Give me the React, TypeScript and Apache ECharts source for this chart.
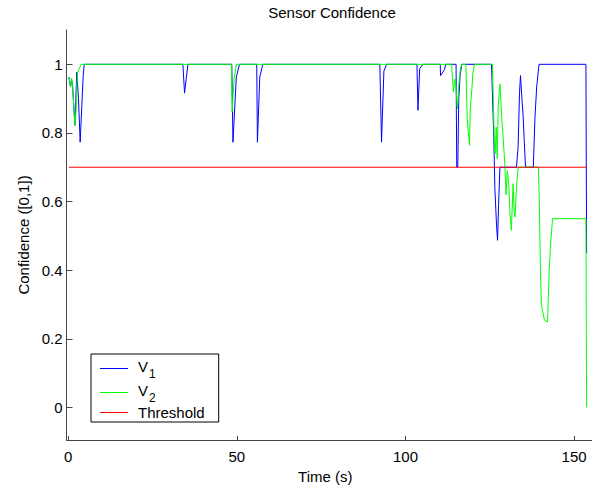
import React, { useEffect, useRef } from 'react';
import * as echarts from 'echarts';

// ---- data ----
const v1Time = [
  0.2, 0.7, 1.0, 1.3, 1.7, 2.0, 2.55, 3.05, 3.55, 4.0, 4.45, 4.75,
  34.0, 34.5, 35.0, 35.5,
  48.5, 48.85, 49.85, 50.8,
  55.9, 56.1, 56.8, 57.7,
  92.4, 92.9, 93.6, 94.4,
  103.4, 103.7, 104.2, 105.2,
  110.3, 110.4, 111.6, 111.9,
  115.0, 115.2, 115.5, 115.8, 116.2, 116.7,
  125.5, 126.2, 126.5, 127.0, 127.3, 127.6, 128.0,
  132.9, 133.4, 133.8, 134.1, 134.5, 134.9, 135.2, 135.6,
  137.9, 138.4, 138.9, 139.6,
  153.5, 153.7,
];
const v1Conf = [
  0.963, 0.934, 0.958, 0.938, 0.87, 0.822, 0.977, 0.9, 0.773, 0.87, 0.967, 1,
  1, 0.916, 0.958, 1,
  1, 0.773, 0.963, 1,
  1, 0.773, 0.963, 1,
  1, 0.773, 0.98, 1,
  1, 0.866, 0.987, 1,
  1, 0.967, 0.985, 1,
  1, 0.7, 0.7, 0.9, 0.967, 1,
  1, 0.783, 0.638, 0.531, 0.487, 0.589, 0.7,
  0.7, 0.76, 0.914, 0.967, 0.904, 0.846, 0.778, 0.7,
  0.7, 0.846, 0.934, 1,
  1, 0.45,
];
const v2Time = [
  0.2, 0.7, 1.0, 1.3, 1.7, 2.0, 2.3, 2.55, 2.85, 3.85,
  48.4, 48.6, 49.2, 49.9,
  113.7, 114.2, 114.6, 115.0, 115.4, 115.8, 116.3, 116.8,
  117.9, 118.3, 119.0, 119.2, 119.7, 120.0, 120.5,
  125.8, 126.3, 126.6, 126.9, 127.2, 127.5, 128.0, 128.5, 129.0, 129.5,
  129.8, 130.2, 130.6, 131.0, 131.4, 131.9, 132.2, 132.5, 132.9, 133.4,
  139.4, 139.7, 140.0, 140.3, 141.2, 142.1, 142.6, 143.0, 143.6,
  153.5, 153.7,
];
const v2Conf = [
  0.963, 0.934, 0.958, 0.938, 0.87, 0.822, 0.861, 0.938, 0.977, 1,
  1, 0.862, 0.96, 1,
  1, 0.919, 0.957, 0.93, 0.87, 0.94, 0.99, 1,
  1, 0.84, 0.764, 0.87, 0.93, 0.977, 1,
  1, 0.79, 0.74, 0.817, 0.725, 0.88, 0.943, 0.85, 0.78, 0.7,
  0.62, 0.69, 0.652, 0.565, 0.516, 0.652, 0.574, 0.555, 0.643, 0.7,
  0.7, 0.589, 0.405, 0.298, 0.254, 0.249, 0.395, 0.472, 0.55,
  0.55, 0.0,
];
const thresholdTime = [0.2, 153.7];
const thresholdValue = [0.7, 0.7];
const xTicks = [0, 50, 100, 150];
const yTicks = [0, 0.2, 0.4, 0.6, 0.8, 1];
const seriesNames = ['V1', 'V2', 'Threshold'];

const zip = (t: number[], v: number[]) => t.map((x, i) => [x, v[i]]);

const FONT = 'Liberation Sans, Arial, sans-serif';

export default function App() {
  const ref = useRef<HTMLDivElement>(null);
  useEffect(() => {
    document.body.style.margin = '0';
    const chart = echarts.init(ref.current!, null, { renderer: 'svg' });
    const axisLineStyle = { color: '#444', width: 1 };
    chart.setOption({
      animation: false,
      backgroundColor: '#ffffff',
      title: {
        text: 'Sensor Confidence',
        left: 327,
        top: 0,
        textAlign: 'center',
        textStyle: { fontFamily: FONT, fontSize: 15, fontWeight: 'normal', color: '#000' },
      },
      grid: { left: 66.5, top: 30, right: 0, bottom: 47.3, containLabel: false },
      xAxis: {
        type: 'value',
        min: -0.5,
        max: 155.3,
        name: 'Time (s)',
        nameLocation: 'middle',
        nameGap: 29,
        nameTextStyle: { fontFamily: FONT, fontSize: 15, color: '#000', padding: [0, 8, 0, 0] },
        axisLine: { show: true, onZero: false, lineStyle: axisLineStyle },
        axisTick: { show: true, inside: true, length: 4, customValues: xTicks, lineStyle: { color: '#444' } },
        axisLabel: { customValues: xTicks, margin: 9, fontFamily: FONT, fontSize: 15, color: '#000' },
        splitLine: { show: false },
      },
      yAxis: {
        type: 'value',
        min: -0.095,
        max: 1.1,
        name: 'Confidence ([0,1])',
        nameLocation: 'middle',
        nameGap: 35,
        nameTextStyle: { fontFamily: FONT, fontSize: 15, color: '#000' },
        axisLine: { show: true, onZero: false, lineStyle: axisLineStyle },
        axisTick: { show: true, inside: true, length: 6, customValues: yTicks, lineStyle: { color: '#444' } },
        axisLabel: { customValues: yTicks, margin: 4, fontFamily: FONT, fontSize: 15, color: '#000' },
        splitLine: { show: false },
      },
      legend: {
        orient: 'vertical',
        left: 91,
        top: 354,
        padding: [3, 14, 2, 9],
        itemGap: 1,
        itemWidth: 28,
        itemHeight: 1,
        icon: 'rect',
        selectedMode: false,
        backgroundColor: '#fff',
        borderColor: '#000',
        borderWidth: 1,
        borderRadius: 0,
        data: seriesNames.map((n) => ({ name: n })),
        formatter: (name: string) =>
          name === 'Threshold' ? '{t|Threshold}' : `{v|V}{s|${name.slice(1)}}`,
        textStyle: {
          fontFamily: FONT,
          color: '#000',
          rich: {
            v: { fontFamily: FONT, fontSize: 15, lineHeight: 15, padding: [0, 0, 5, 5], color: '#000' },
            s: { fontFamily: FONT, fontSize: 12, lineHeight: 12, padding: [11, 0, 0, 1], color: '#000' },
            t: { fontFamily: FONT, fontSize: 15, lineHeight: 23, padding: [0, 0, 0, 5], color: '#000' },
          },
        },
      },
      series: [
        {
          name: 'V1',
          type: 'line',
          data: zip(v1Time, v1Conf),
          symbol: 'none',
          lineStyle: { color: '#0000ff', width: 1 },
          itemStyle: { color: '#0000ff' },
        },
        {
          name: 'V2',
          type: 'line',
          data: zip(v2Time, v2Conf),
          symbol: 'none',
          lineStyle: { color: '#00ff00', width: 1 },
          itemStyle: { color: '#00ff00' },
        },
        {
          name: 'Threshold',
          type: 'line',
          data: zip(thresholdTime, thresholdValue),
          symbol: 'none',
          lineStyle: { color: '#ff0000', width: 1 },
          itemStyle: { color: '#ff0000' },
        },
      ],
    });
    return () => chart.dispose();
  }, []);
  return <div ref={ref} style={{ width: 592, height: 489 }} />;
}
